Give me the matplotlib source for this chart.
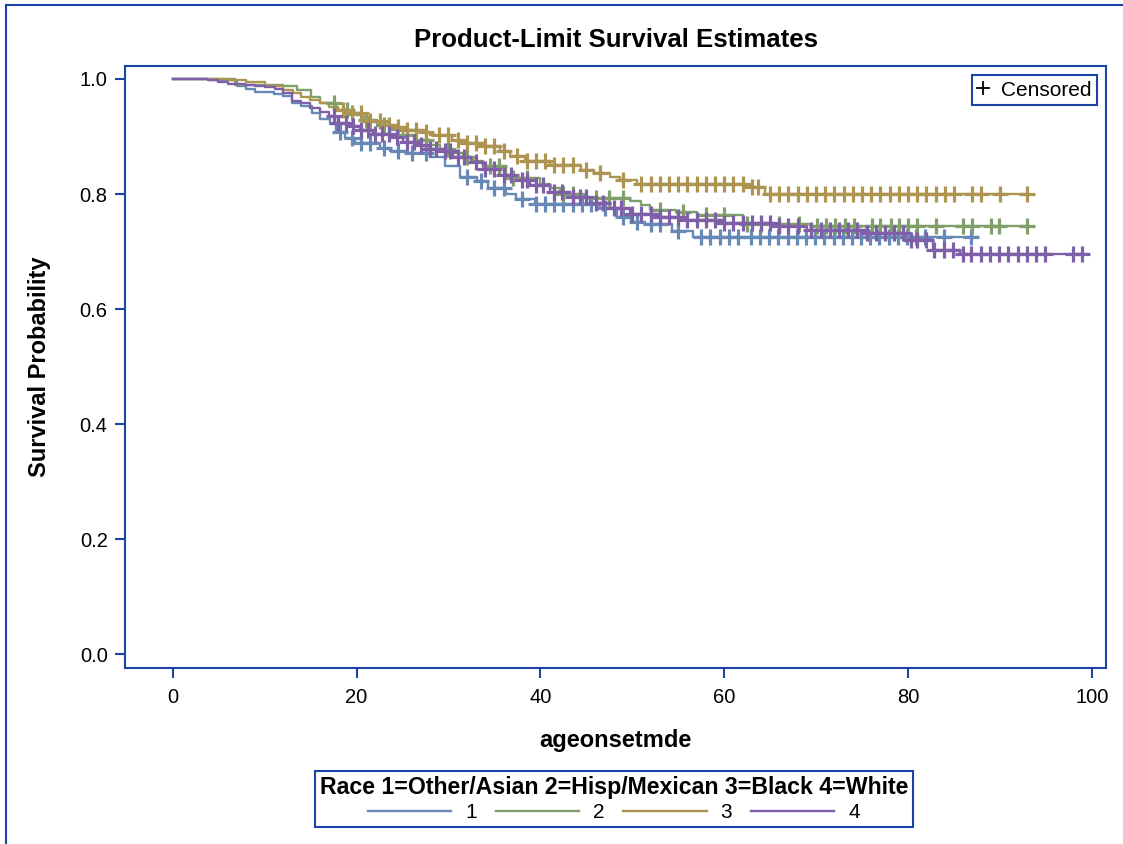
import numpy as np
import matplotlib
matplotlib.use("Agg")
import matplotlib.pyplot as plt
from matplotlib.lines import Line2D

plt.rcParams['font.family'] = ['Liberation Sans', 'DejaVu Sans']

# ---------------- data ----------------
groups = ["1", "2", "3", "4"]
legend_title = "Race 1=Other/Asian 2=Hisp/Mexican 3=Black 4=White"

t1 = [0, 3.8, 7, 8, 9, 11, 12, 13, 14, 15.1, 16, 17.1, 17.8, 18.7, 19.8, 22.6, 23.6, 25.6, 28,
      29.6, 31.3, 33.1, 34.3, 36.3, 37.4, 39.4, 46.5, 48.3, 49.9, 51.4, 54.3, 56.6]
s1 = [1.0, 0.998, 0.988, 0.982, 0.977, 0.974, 0.970, 0.958, 0.953, 0.941, 0.930, 0.921, 0.908,
      0.897, 0.889, 0.880, 0.874, 0.871, 0.865, 0.849, 0.829, 0.822, 0.810, 0.800, 0.792, 0.782,
      0.775, 0.760, 0.752, 0.747, 0.736, 0.725]
end1 = 87.5
c1 = [18.2, 19.5, 20.5, 21.5, 23, 24.5, 26, 27.5, 32, 33.5, 35, 36, 38, 39.5, 40.5, 41.5, 42.5,
      43.5, 44.5, 45.5, 47, 49, 50.5, 52, 53, 55, 57.5, 58.5, 59.5, 60.5, 61.5, 62.9, 63.9, 64.9,
      65.9, 66.9, 67.9, 68.9, 69.9, 70.9, 71.9, 72.9, 73.9, 74.9, 75.9, 76.9, 77.9, 78.9, 79.9,
      80.9, 81.9, 83.9, 86.9]

t2 = [0, 6.8, 12, 13.5, 15, 16, 17.8, 19.2, 20.7, 22.2, 23.6, 25, 26.5, 28, 29.1, 30.5, 31.6,
      32.7, 33.8, 36.3, 40, 41.1, 42.1, 44.7, 49.8, 50.9, 51.9, 54.8, 57, 62, 69.3]
s2 = [1.0, 0.990, 0.987, 0.980, 0.968, 0.958, 0.946, 0.938, 0.929, 0.920, 0.911, 0.903, 0.894,
      0.886, 0.879, 0.871, 0.865, 0.857, 0.848, 0.827, 0.818, 0.810, 0.800, 0.793, 0.787, 0.781,
      0.773, 0.769, 0.763, 0.748, 0.745]
end2 = 93.0
c2 = [17.5, 19, 21, 23, 25.5, 27.5, 30, 32, 34.5, 35.5, 37, 38.5, 42.5, 43.5, 46, 47.5, 49, 53,
      55.5, 58, 60, 62.5, 64, 66, 68.1, 70.1, 71.1, 72.1, 73.1, 74.1, 76.1, 77.0, 78.1, 79.0,
      80.0, 81.0, 83.1, 86.0, 87.0, 89.0, 89.9, 93.0]

t3 = [0, 6, 8, 10, 12, 13.1, 14, 14.9, 16, 17, 18, 19.3, 20.6, 21.3, 22.6, 24.2, 25.3, 27.3, 28,
      30.4, 31.6, 33.8, 35.6, 36.7, 38.3, 41.1, 44.4, 45.8, 47.6, 48.7, 50.5, 62.5, 64.4]
s3 = [1.0, 0.998, 0.995, 0.988, 0.981, 0.975, 0.969, 0.963, 0.958, 0.952, 0.946, 0.941, 0.934,
      0.927, 0.920, 0.916, 0.911, 0.907, 0.903, 0.894, 0.889, 0.883, 0.874, 0.866, 0.858, 0.850,
      0.842, 0.836, 0.830, 0.824, 0.817, 0.813, 0.800]
end3 = 93.0
c3 = [18.5, 19.5, 20.5, 21.5, 22.5, 23.5, 24.5, 25.5, 26.5, 27.5, 29, 30, 31, 32, 33, 34, 35, 36,
      37.5, 38.5, 39.5, 40.5, 41.5, 42.5, 43.5, 45, 46.5, 49, 51, 52, 53, 54, 55, 56, 57, 58, 59,
      60, 61, 62, 63, 63.7, 65, 66, 67, 68, 69, 70, 71, 72, 73, 74, 75, 76, 77, 78, 79, 80, 81,
      82, 83, 84, 85, 87, 88, 90, 93]

t4 = [0, 3.8, 4.9, 6, 7.9, 9, 10, 11.1, 12, 13, 14, 14.9, 16, 17, 17.7, 19.3, 20.4, 21.8, 23.8,
      25.1, 26.7, 27.6, 29.1, 30.5, 32.4, 33.8, 35.6, 37.4, 38.9, 41.1, 43.2, 45.4, 47.6, 49.8,
      52.7, 55.6, 59.9, 65.5, 69, 75.4, 79.7, 82.7, 85.7]
s4 = [1.0, 0.998, 0.995, 0.992, 0.990, 0.988, 0.986, 0.982, 0.976, 0.962, 0.958, 0.949, 0.943,
      0.936, 0.923, 0.918, 0.912, 0.905, 0.899, 0.891, 0.885, 0.879, 0.874, 0.865, 0.856, 0.843,
      0.833, 0.824, 0.815, 0.804, 0.795, 0.785, 0.775, 0.766, 0.760, 0.755, 0.749, 0.745, 0.737,
      0.733, 0.720, 0.703, 0.695]
end4 = 99.5
c4 = [17.5, 18, 18.8, 19.6, 20.5, 21.2, 22, 22.8, 23.5, 24.4, 25.5, 26.2, 27, 28, 28.6, 29.6,
      30.2, 31, 31.7, 33, 34, 35, 36, 36.8, 38, 38.5, 39.5, 40.3, 41.5, 42.3, 43.5, 44.3, 45, 46,
      46.8, 48, 48.8, 50, 51, 52, 53, 54, 55, 56, 57, 58, 59, 60, 61, 62, 63, 64, 65, 66, 67, 68,
      69.5, 70.5, 71.5, 72.5, 73.5, 74.5, 75.5, 76.5, 77.5, 78.5, 79.5, 80.3, 81, 82, 82.8, 83.9,
      84.9, 86.0, 86.9, 88.0, 88.9, 89.9, 90.9, 92.0, 92.9, 93.9, 94.9, 98.0, 98.9]

xticks = [0, 20, 40, 60, 80, 100]
yticks = [0.0, 0.2, 0.4, 0.6, 0.8, 1.0]

# ---------------- styling ----------------
colors = ['#6689b5', '#7f9f6b', '#ad9450', '#7f5fa8']
frame_col = '#1b45a5'

fig = plt.figure(figsize=(11.23, 8.44), dpi=100)
ax = fig.add_axes([125/1123, 1-668/844, (1106-125)/1123, (668-66)/844])

series = [(t1, s1, end1, c1), (t2, s2, end2, c2), (t3, s3, end3, c3), (t4, s4, end4, c4)]
handles = []
for (t, s, e, c), col, g in zip(series, colors, groups):
    tt = np.array(t + [e])
    ss = np.array(s + [s[-1]])
    h, = ax.step(tt, ss, where='post', color=col, lw=1.7, label=g, zorder=3)
    handles.append(h)
    ct = np.array(c)
    idx = np.searchsorted(np.array(t), ct, side='right') - 1
    cs = np.array(s)[idx]
    ax.plot(ct, cs, linestyle='none', marker='+', markersize=11, mew=2.3, color=col, zorder=4)

ax.set_xlim(-5.2, 101.55)
ax.set_ylim(-0.0243, 1.0226)
ax.set_xticks(xticks)
ax.set_xticklabels([str(v) for v in xticks])
ax.set_yticks(yticks)
ax.set_yticklabels([f"{v:.1f}" for v in yticks])
for sp in ax.spines.values():
    sp.set_color(frame_col)
    sp.set_linewidth(1.5)
ax.tick_params(direction='out', length=7.5, width=1.5, color=frame_col,
               labelsize=14.5, labelcolor='black')
ax.tick_params(axis='x', pad=7)
ax.tick_params(axis='y', pad=5)

ax.set_xlabel("ageonsetmde", fontsize=17, fontweight='bold')
ax.xaxis.set_label_coords(0.5, -73/602)
ax.xaxis.label.set_va('center')
ax.set_ylabel("Survival Probability", fontsize=17, fontweight='bold')
ax.yaxis.set_label_coords(-85/981, 0.5)
ax.yaxis.label.set_va('center')

fig.text((125+1106)/2/1123, 1-40/844, "Product-Limit Survival Estimates",
         ha='center', va='center', fontsize=18.5, fontweight='bold')

# censored legend
cens_h = Line2D([], [], linestyle='none', marker='+', markersize=10, mew=1.3, color='black')
leg1 = ax.legend([cens_h], ["Censored"], loc='upper right', fontsize=15,
                 frameon=True, fancybox=False, edgecolor=frame_col, framealpha=1,
                 handlelength=0.6, handletextpad=0.55, borderpad=0.25,
                 borderaxespad=0.45)
leg1.get_frame().set_linewidth(1.5)

# bottom legend
leg2 = fig.legend(handles, groups, loc='center', bbox_to_anchor=(614/1123, 1-799/844),
                  ncol=4, title=legend_title, fontsize=15,
                  title_fontproperties={'weight': 'bold', 'size': 16.7},
                  frameon=True, fancybox=False, edgecolor=frame_col, framealpha=1,
                  handlelength=4.0, handletextpad=0.67, columnspacing=0.9,
                  borderpad=0.25, labelspacing=0.2)
leg2.get_frame().set_linewidth(1.5)

# outer border (top and left)
fig.add_artist(Line2D([6/1123, 1], [1-5/844, 1-5/844], transform=fig.transFigure,
                      color=frame_col, lw=1.5))
fig.add_artist(Line2D([6/1123, 6/1123], [0, 1-5/844], transform=fig.transFigure,
                      color=frame_col, lw=1.5))

fig.savefig("out.png", dpi=100)
